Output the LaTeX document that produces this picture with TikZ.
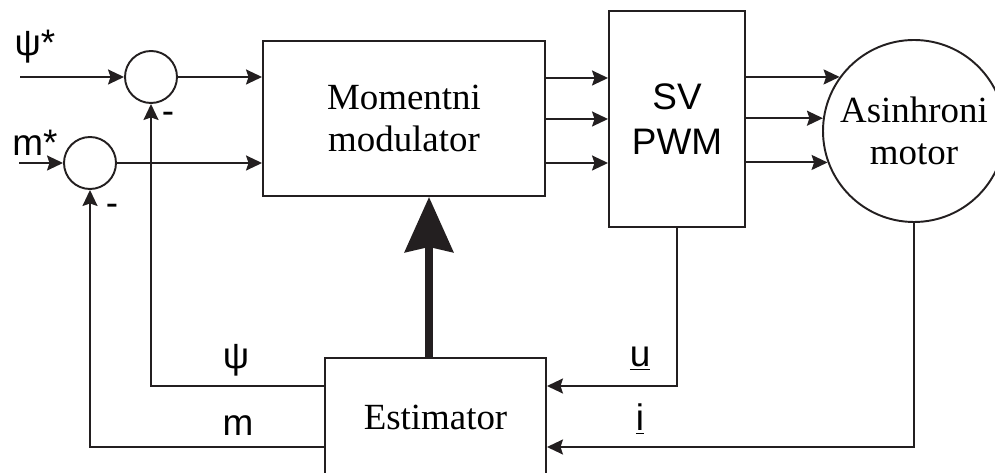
\documentclass[tikz,border=0pt]{standalone}
\usepackage{fontspec}
\setmainfont{Liberation Serif}
\newfontfamily\labfont{Liberation Sans}
\usetikzlibrary{arrows.meta,calc}
\definecolor{ink}{RGB}{35,31,32}
\tikzset{
  sig/.style={ink,line width=1.1pt,-{Stealth[length=3.2mm,width=3mm,inset=0.5mm]}},
  bigarrow/.style={ink,line width=4.6pt,-{Stealth[length=11mm,width=9.6mm,inset=1mm]}},
  blk/.style={draw=ink,line width=1.1pt,fill=white,inner sep=0pt,align=center,font=\fontsize{21}{24}\selectfont},
  sum/.style={circle,draw=ink,line width=1.1pt,minimum size=1.04cm,inner sep=0pt},
  lab/.style={font=\labfont\fontsize{21}{24}\selectfont,inner sep=0pt}
}

\begin{document}
\begin{tikzpicture}[x=1cm,y=1cm]
  \useasboundingbox (0,0) rectangle (19.9,9.44);

  % ================= bloki =================
  \node[sum] (sum1) at (3.02,7.90) {};
  \node[sum] (sum2) at (1.80,6.18) {};
  \node[blk,minimum width=5.64cm,minimum height=3.10cm] (mod) at (8.08,7.07) {Momentni\\modulator};
  \node[blk,minimum width=2.72cm,minimum height=4.32cm,font=\labfont\fontsize{21}{25.5}\selectfont] (pwm) at (13.54,7.06) {SV\\PWM};
  \node[blk,circle,minimum size=3.64cm] (motor) at (18.28,6.82) {Asinhroni\\motor};
  \node[blk,minimum width=4.42cm,minimum height=2.36cm] (est) at (8.71,1.10) {Estimator};

  % pomocne tocke
  \coordinate (psiin) at (0.40,7.90);
  \coordinate (min) at (0.38,6.18);
  \coordinate (r1) at (0,7.88);
  \coordinate (r2) at (0,7.06);
  \coordinate (r3) at (0,6.18);
  \coordinate (f1) at (0,1.72);
  \coordinate (f2) at (0,0.50);
  \coordinate (thk) at (8.58,0);

  % ================= ulazi =================
  \draw[sig] (psiin) -- (sum1.west);
  \draw[sig] (min) -- (sum2.west);
  \draw[sig] (sum1.east) -- (sum1.east -| mod.west);
  \draw[sig] (sum2.east) -- (sum2.east -| mod.west);

  % ================= modulator -> SV PWM -> motor =================
  \draw[sig] (mod.east |- r1) -- (pwm.west |- r1);
  \draw[sig] (mod.east |- r2) -- (pwm.west |- r2);
  \draw[sig] (mod.east |- r3) -- (pwm.west |- r3);
  \draw[sig] (motor.144.4 -| pwm.east) -- (motor.144.4);
  \draw[sig] (motor.172.4 -| pwm.east) -- (motor.172.4);
  \draw[sig] (motor.200.6 -| pwm.east) -- (motor.200.6);

  % ================= povratne veze =================
  \draw[sig] (pwm.south) |- (est.east |- f1);
  \draw[sig] (motor.south) |- (est.east |- f2);
  \draw[sig] (est.west |- f1) -| (sum1.south);
  \draw[sig] (est.west |- f2) -| (sum2.south);
  \draw[bigarrow] (thk |- est.north) -- (thk |- mod.south);

  % ================= oznake =================
  \node[lab] (psistar) at (0.70,8.50) {ψ*};
  \node[lab] (mstar) at (0.70,6.58) {m*};
  \node[lab] (minus1) at (3.36,7.08) {-};
  \node[lab] (minus2) at (2.24,5.24) {-};
  \node[lab] (psifb) at (4.72,2.24) {ψ};
  \node[lab] (mfb) at (4.76,0.92) {m};
  \node[lab] (ulab) at (12.80,2.27) {\underline{u}};
  \node[lab] (ilab) at (12.80,1.06) {\underline{i}};
\end{tikzpicture}
\end{document}
